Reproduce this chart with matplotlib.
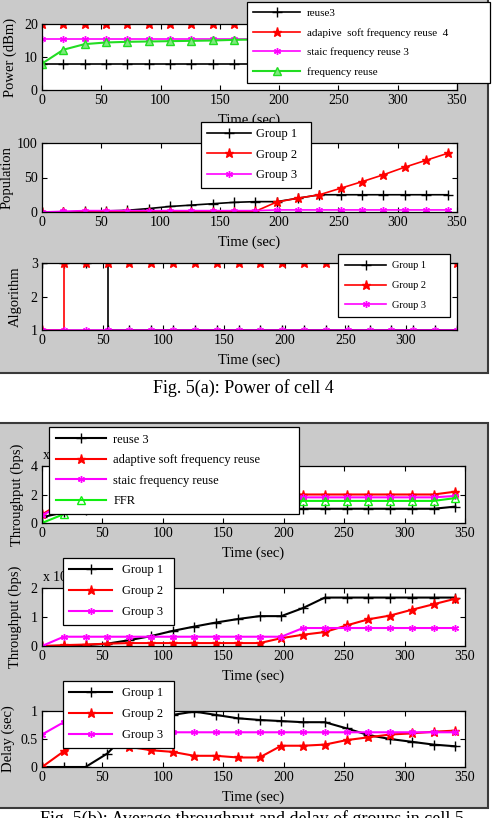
import matplotlib.pyplot as plt
from matplotlib.patches import Rectangle

plt.rcParams['font.family'] = ['Liberation Serif', 'DejaVu Serif']
plt.rcParams['mathtext.fontset'] = 'stix'

W, H = 492, 818

# time samples (sec), one marker every 18 s
t = [0, 18, 36, 54, 72, 90, 108, 126, 144, 162, 180, 198, 216, 234, 252, 270, 288, 306, 324, 342]

# Fig 5(a) - power of cell 4 (dBm)
pow_reuse3 = [8, 8, 8, 8, 8, 8, 8, 8, 8, 8, 8, 8, 8, 8, 8, 8, 8, 8, 8, 8]
pow_asfr = [20, 20, 20, 20, 20, 20, 20, 20, 20, 20, 20, 20, 20, 20, 20, 20, 20, 20, 20, 20]
pow_sfr = [15.5, 15.5, 15.5, 15.5, 15.5, 15.5, 15.5, 15.5, 15.5, 15.5,
           15.5, 15.5, 15.5, 15.5, 15.5, 15.5, 15.5, 15.5, 15.5, 15.5]
pow_fr = [8, 12.2, 13.9, 14.4, 14.6, 14.7, 14.8, 14.9, 15.0, 15.2,
          15.3, 15.3, 15.4, 15.4, 15.4, 15.4, 15.4, 15.4, 15.4, 15.4]

# population per group
pop_g1 = [0, 0, 1, 1.5, 2.5, 5, 8, 10, 12, 14, 15, 15, 20, 25, 25, 25, 25, 25, 25, 25]
pop_g2 = [0, 0, 0, 0.5, 0.5, 0.5, 0.5, 0.5, 0.5, 0.5, 1, 14.5, 20, 25, 34.5, 44, 54, 65, 75, 85]
pop_g3 = [0, 1, 2, 2, 2, 2, 2, 2, 2, 2, 2, 3, 3, 3, 3, 3, 3, 3, 3, 3]

# algorithm used per group
alg_g1 = [3, 3, 3, 1, 1, 1, 1, 1, 1, 1, 1, 1, 1, 1, 1, 1, 1, 1, 1, 1]
alg_g2 = [1, 3, 3, 3, 3, 3, 3, 3, 3, 3, 3, 3, 3, 3, 3, 3, 3, 3, 3, 3]
alg_g3 = [1, 1, 1, 1, 1, 1, 1, 1, 1, 1, 1, 1, 1, 1, 1, 1, 1, 1, 1, 1]

# Fig 5(b) - total throughput (x 10^6 bps)
thr_reuse3 = [0.4, 0.75, 0.9, 0.95, 1.0, 1.0, 1.0, 1.0, 1.0, 1.0,
              1.0, 1.0, 1.0, 1.0, 1.0, 1.0, 1.0, 1.0, 1.0, 1.15]
thr_asfr = [0.6, 1.5, 1.85, 1.95, 2.0, 2.0, 2.0, 2.0, 2.0, 2.0,
            2.0, 2.0, 2.0, 2.0, 2.0, 2.0, 2.0, 2.0, 2.0, 2.2]
thr_sfr = [0.55, 1.3, 1.65, 1.75, 1.8, 1.8, 1.8, 1.8, 1.8, 1.8,
           1.8, 1.8, 1.8, 1.8, 1.8, 1.8, 1.8, 1.8, 1.8, 1.9]
thr_ffr = [0, 0.62, 1.2, 1.4, 1.5, 1.55, 1.55, 1.55, 1.55, 1.55,
           1.55, 1.55, 1.55, 1.55, 1.55, 1.55, 1.55, 1.55, 1.55, 1.75]

# throughput per group (x 10^6 bps)
gthr_g1 = [0, 0, 0.03, 0.08, 0.2, 0.34, 0.52, 0.67, 0.81, 0.93,
           1.03, 1.03, 1.31, 1.67, 1.67, 1.67, 1.67, 1.67, 1.67, 1.67]
gthr_g2 = [0, 0.03, 0.05, 0.08, 0.1, 0.1, 0.1, 0.1, 0.1, 0.1,
           0.1, 0.27, 0.39, 0.48, 0.71, 0.92, 1.05, 1.25, 1.44, 1.63]
gthr_g3 = [0, 0.32, 0.32, 0.32, 0.32, 0.32, 0.32, 0.32, 0.32, 0.32,
           0.32, 0.32, 0.62, 0.62, 0.62, 0.62, 0.62, 0.62, 0.62, 0.62]

# delay per group (sec)
del_g1 = [0, 0, 0, 0.24, 0.64, 0.85, 0.93, 0.99, 0.93, 0.87,
          0.84, 0.82, 0.8, 0.8, 0.69, 0.57, 0.5, 0.45, 0.4, 0.37]
del_g2 = [0, 0.28, 0.5, 0.45, 0.36, 0.3, 0.27, 0.2, 0.2, 0.17,
          0.17, 0.38, 0.38, 0.4, 0.48, 0.53, 0.58, 0.6, 0.63, 0.65]
del_g3 = [0.58, 0.8, 0.7, 0.65, 0.62, 0.62, 0.62, 0.62, 0.62, 0.62,
          0.62, 0.62, 0.62, 0.62, 0.62, 0.62, 0.62, 0.62, 0.62, 0.62]

xticks = [0, 50, 100, 150, 200, 250, 300, 350]

blk = dict(color='black', marker='+', ms=7, mew=1)
red = dict(color='red', marker='*', ms=6.5)
mag = dict(color='magenta', marker=(6, 2, 0), ms=5, mew=1)
grn_top = dict(color='#22dd22', marker='^', ms=5.5, mfc='#7fe97f', mew=1)
grn = dict(color='#11ee11', marker='^', ms=6, mfc='none', mew=1)

fig = plt.figure(figsize=(W / 100, H / 100), dpi=100)


def px_box(l, top, r, b):
    return [l / W, 1 - b / H, (r - l) / W, (b - top) / H]


# gray frames behind both figures
for top, bot in [(-5, 373), (423, 808)]:
    fig.patches.append(Rectangle((-3 / W, 1 - bot / H), 491 / W, (bot - top) / H,
                                 transform=fig.transFigure, facecolor='#cacaca',
                                 edgecolor='#3a3a3a', lw=1.5, zorder=-1))


def make_axes(box, ylabel, ylab_x):
    l, top, r, b = box
    ax = fig.add_axes(px_box(l, top, r, b))
    ax.tick_params(direction='in', top=True, right=True, length=3.5, width=0.8,
                   labelsize=10, pad=3)
    for s in ax.spines.values():
        s.set_linewidth(0.9)
    ax.set_xlabel('Time (sec)', fontsize=10.5, va='center')
    ax.xaxis.set_label_coords(0.5, -30 / (b - top))
    ax.set_ylabel(ylabel, fontsize=10.5, va='center')
    ax.yaxis.set_label_coords((ylab_x - l) / (r - l), 0.5)
    return ax


def add_legend(ax, box, lx, ly, lw, fs, hl, ls, bp, htp):
    l, top, r, b = box
    leg = ax.legend(loc='upper left',
                    bbox_to_anchor=((lx - l) / (r - l), (b - ly) / (b - top) - 1, lw / (r - l), 1),
                    mode='expand', borderaxespad=0, fontsize=fs, handlelength=hl,
                    labelspacing=ls, borderpad=bp, handletextpad=htp, numpoints=1,
                    fancybox=False, framealpha=1, edgecolor='black')
    leg.get_frame().set_linewidth(0.9)


# ---- Fig 5(a) ----
b1 = (42, 24, 457, 90)
ax1 = make_axes(b1, 'Power (dBm)', 10)
ax1.plot(t, pow_reuse3, lw=1.2, label='reuse3', **blk)
ax1.plot(t, pow_asfr, lw=1.2, label='adapive  soft frequency reuse  4', **red)
ax1.plot(t, pow_sfr, lw=1.2, label='staic frequency reuse 3', **mag)
ax1.plot(t, pow_fr, lw=1.5, label='frequency reuse', **grn_top)
ax1.set_xlim(0, 350)
ax1.set_xticks(xticks)
ax1.set_ylim(0, 20)
ax1.set_yticks([0, 10, 20])
add_legend(ax1, b1, 247, 2, 243, 8, 4.2, 0.88, 0.58, 0.6)

b2 = (42, 143, 457, 212)
ax2 = make_axes(b2, 'Population', 7)
ax2.plot(t, pop_g1, lw=1.2, label='Group 1', **blk)
ax2.plot(t, pop_g2, lw=1.2, label='Group 2', **red)
ax2.plot(t, pop_g3, lw=1.2, label='Group 3', **mag)
ax2.set_xlim(0, 350)
ax2.set_xticks(xticks)
ax2.set_ylim(0, 100)
ax2.set_yticks([0, 50, 100])
add_legend(ax2, b2, 201, 122, 110, 9, 3.5, 0.68, 0.5, 0.4)

b3 = (42, 263, 457, 330)
ax3 = make_axes(b3, 'Algorithm', 15)
ax3.plot(t, alg_g1, lw=1.2, drawstyle='steps-post', label='Group 1', **blk)
ax3.plot(t, alg_g2, lw=1.2, drawstyle='steps-post', label='Group 2', **red)
ax3.plot(t, alg_g3, lw=1.2, drawstyle='steps-post', label='Group 3', **mag)
ax3.set_xlim(0, 342)
ax3.set_xticks(xticks[:-1])
ax3.set_ylim(1, 3)
ax3.set_yticks([1, 2, 3])
add_legend(ax3, b3, 338, 254, 112, 7.5, 3.9, 1.0, 0.69, 0.6)

fig.text(243 / W, 1 - 388 / H, 'Fig. 5(a): Power of cell 4', ha='center', va='center', fontsize=13)

# ---- Fig 5(b) ----
b4 = (42, 466, 465, 523)
ax4 = make_axes(b4, 'Throughput (bps)', 17)
ax4.text(0.0, 1.06, r'x 10$^{6}$', transform=ax4.transAxes, fontsize=10, va='bottom')
ax4.plot(t, thr_reuse3, lw=1.5, label='reuse 3', **blk)
ax4.plot(t, thr_asfr, lw=1.5, label='adaptive soft frequency reuse', **red)
ax4.plot(t, thr_sfr, lw=1.5, label='staic frequency reuse', **mag)
ax4.plot(t, thr_ffr, lw=1.5, label='FFR', **grn)
ax4.set_xlim(0, 350)
ax4.set_xticks(xticks)
ax4.set_ylim(0, 4)
ax4.set_yticks([0, 2, 4])
add_legend(ax4, b4, 49, 427, 250, 9, 4.0, 0.68, 0.54, 0.6)

b5 = (42, 588, 465, 646)
ax5 = make_axes(b5, 'Throughput (bps)', 15)
ax5.text(0.0, 1.06, r'x 10$^{6}$', transform=ax5.transAxes, fontsize=10, va='bottom')
ax5.plot(t, gthr_g1, lw=1.5, label='Group 1', **blk)
ax5.plot(t, gthr_g2, lw=1.5, label='Group 2', **red)
ax5.plot(t, gthr_g3, lw=1.5, label='Group 3', **mag)
ax5.set_xlim(0, 350)
ax5.set_xticks(xticks)
ax5.set_ylim(0, 2)
ax5.set_yticks([0, 1, 2])
add_legend(ax5, b5, 63, 558, 111, 9, 3.4, 0.72, 0.5, 0.8)

b6 = (42, 711, 465, 767)
ax6 = make_axes(b6, 'Delay (sec)', 8)
ax6.plot(t, del_g1, lw=1.5, label='Group 1', **blk)
ax6.plot(t, del_g2, lw=1.5, label='Group 2', **red)
ax6.plot(t, del_g3, lw=1.5, label='Group 3', **mag)
ax6.set_xlim(0, 350)
ax6.set_xticks(xticks)
ax6.set_ylim(0, 1)
ax6.set_yticks([0, 0.5, 1])
ax6.set_yticklabels(['0', '0.5', '1'])
add_legend(ax6, b6, 63, 681, 111, 9, 3.4, 0.72, 0.5, 0.8)

fig.text(252 / W, 1 - 819 / H, 'Fig. 5(b): Average throughput and delay of groups in cell 5',
         ha='center', va='center', fontsize=13)

fig.savefig('out.png', dpi=100)
